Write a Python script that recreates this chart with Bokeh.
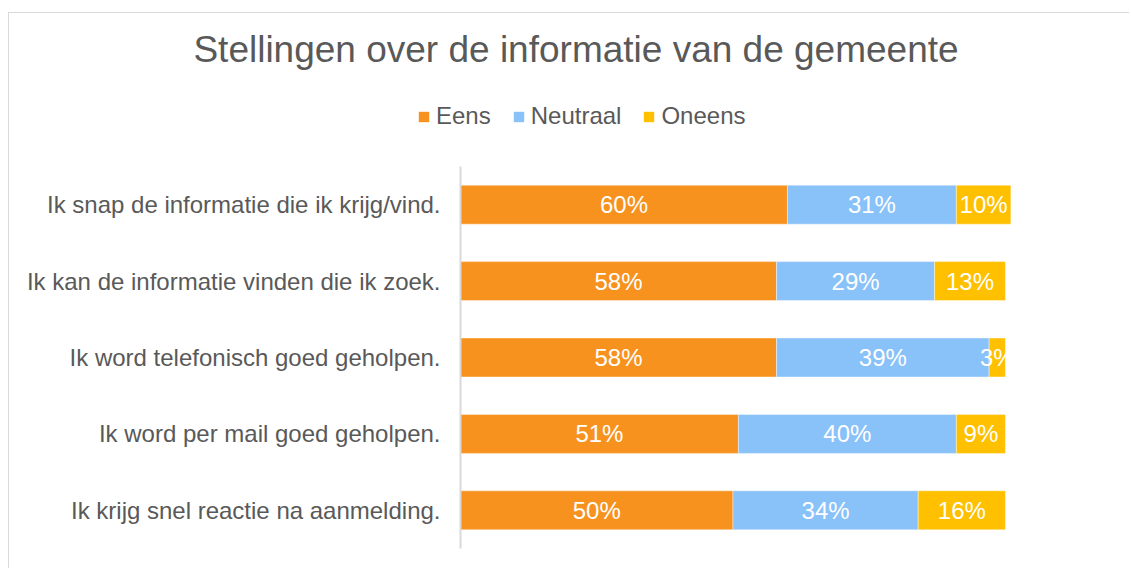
from bokeh.plotting import figure
from bokeh.layouts import column
from bokeh.models import ColumnDataSource, Range1d, FactorRange, Legend, LegendItem, LabelSet, Label
from bokeh.core.properties import value
from bokeh.embed import file_html
from bokeh.resources import INLINE

statements = [
    "Ik snap de informatie die ik krijg/vind.",
    "Ik kan de informatie vinden die ik zoek.",
    "Ik word telefonisch goed geholpen.",
    "Ik word per mail goed geholpen.",
    "Ik krijg snel reactie na aanmelding.",
]
eens = [60, 58, 58, 51, 50]
neutraal = [31, 29, 39, 40, 34]
oneens = [10, 13, 3, 9, 16]
series_names = ["Eens", "Neutraal", "Oneens"]
colors = ["#F7921E", "#89C1F9", "#FFC000"]
title_text = "Stellingen over de informatie van de gemeente"

FONT = "Liberation Sans"
GRAY = "#595959"

# ---- header figure: title + legend ----
top = figure(width=1120, height=153, output_backend="svg", toolbar_location=None,
             x_range=Range1d(0, 1120), y_range=Range1d(0, 153),
             min_border=0)
top.outline_line_color = None
top.grid.visible = False
top.axis.visible = False

# invisible legend proxies (zero-size)
leg_renderers = []
for c in colors:
    r = top.hbar(y=[0], left=[0], right=[0], height=0, fill_color=c, line_color=None)
    leg_renderers.append(r)

legend = Legend(items=[LegendItem(label=n, renderers=[r]) for n, r in zip(series_names, leg_renderers)],
                orientation="horizontal", location=(408, 36),
                glyph_width=13, glyph_height=13, label_standoff=6, spacing=21,
                padding=0, margin=0, border_line_color=None, background_fill_alpha=0,
                label_text_font=FONT, label_text_font_size="24px", label_text_color=GRAY)
top.add_layout(legend, "center")

title = Label(x=566.5, y=117, x_units="screen", y_units="screen", text=title_text,
              text_align="center", text_baseline="alphabetic", text_font=FONT,
              text_font_size="37px", text_color=GRAY)
top.add_layout(title)

# ---- main bar chart ----
p = figure(width=1120, height=402, output_backend="svg", toolbar_location=None,
           y_range=FactorRange(factors=list(reversed(statements))),
           x_range=Range1d(0, 118),
           min_border_left=451, min_border_right=26, min_border_top=0, min_border_bottom=20)
p.outline_line_color = None
p.grid.visible = False
p.xaxis.visible = False
p.yaxis.major_tick_line_color = None
p.yaxis.minor_tick_line_color = None
p.yaxis.axis_line_color = "#D9D9D9"
p.yaxis.axis_line_width = 2
p.yaxis.major_label_text_font = FONT
p.yaxis.major_label_text_font_size = "24px"
p.yaxis.major_label_text_color = GRAY
p.yaxis.major_label_standoff = 14
p.y_range.range_padding = 0

for fig in (top, p):
    try:
        fig.frame_align = False
    except Exception:
        pass

vals = [eens, neutraal, oneens]
left = [0] * len(statements)
for name, v, c in zip(series_names, vals, colors):
    right = [a + b for a, b in zip(left, v)]
    s = ColumnDataSource(dict(y=statements, left=left, right=right,
                              mid=[(a + b) / 2 for a, b in zip(left, right)],
                              lab=[f"{x}%" for x in v]))
    p.hbar(y="y", left="left", right="right", height=0.51, source=s,
           fill_color=c, line_color="#FFFFFF", line_alpha=0.4, line_width=1)
    ls = LabelSet(x="mid", y="y", text="lab", source=s, text_align="center",
                  text_baseline="middle", text_color="white", text_font_size="24px",
                  text_font=value(FONT))
    p.add_layout(ls)
    left = right

layout = column(top, p, spacing=0, margin=(12, 0, 0, 8),
                styles={"border-left": "1px solid #D9D9D9", "border-top": "1px solid #D9D9D9"})

open("out.html", "w").write(file_html(layout, INLINE))
